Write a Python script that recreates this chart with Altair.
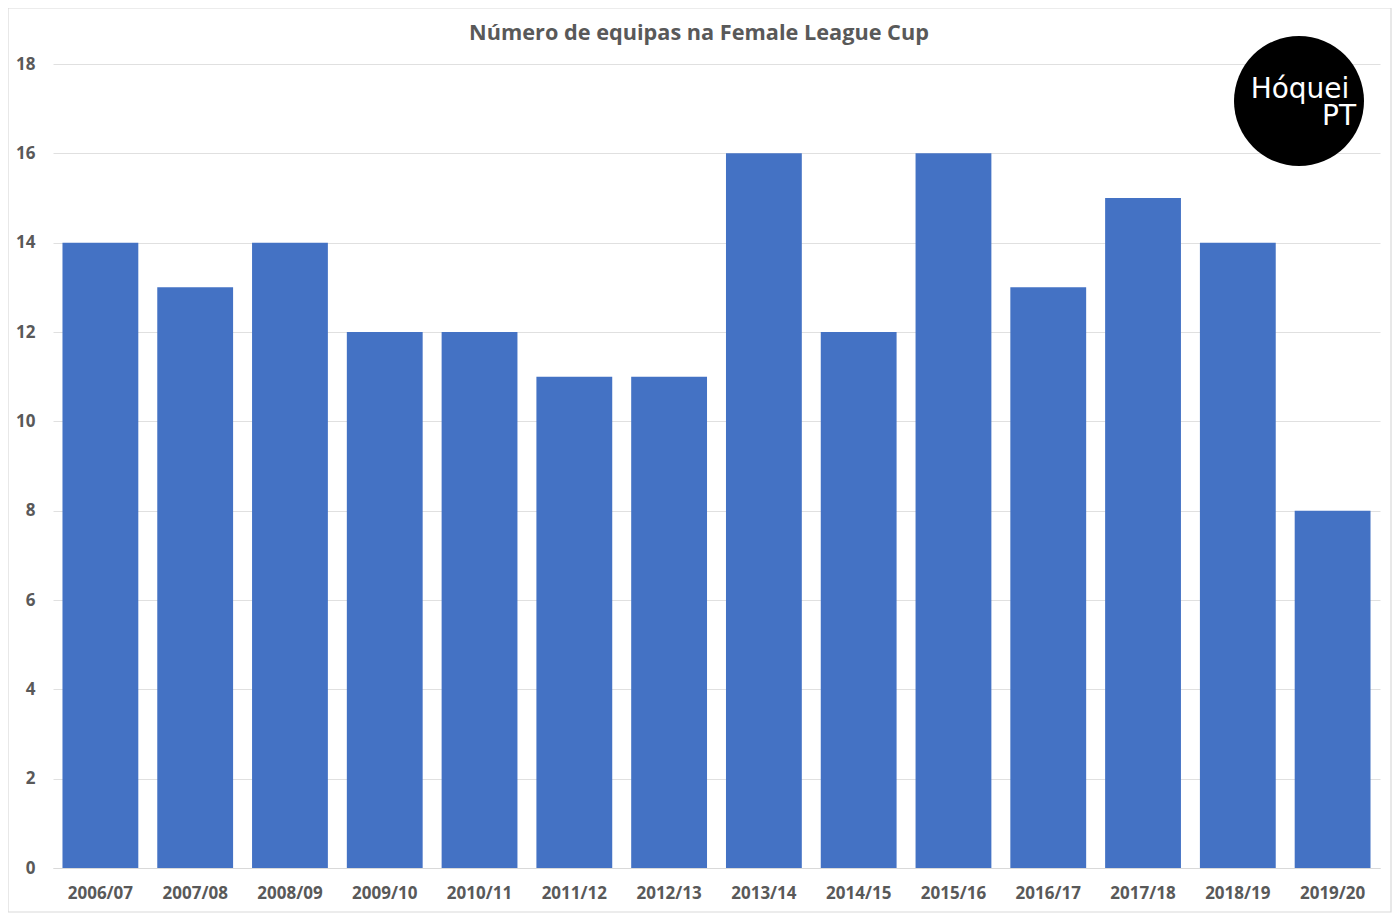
import altair as alt
import pandas as pd

seasons = ["2006/07", "2007/08", "2008/09", "2009/10", "2010/11", "2011/12", "2012/13",
           "2013/14", "2014/15", "2015/16", "2016/17", "2017/18", "2018/19", "2019/20"]
teams = [14, 13, 14, 12, 12, 11, 11, 16, 12, 16, 13, 15, 14, 8]
title_text = ["Número de equipas na Female League Cup"]
logo_line1 = ["Hóquei"]
logo_line2 = ["PT"]

df = pd.DataFrame({"season": seasons, "teams": teams})
tdf = pd.DataFrame({"t": title_text, "l1": logo_line1, "l2": logo_line2})

W, H = 1327, 804
FONT = "Open Sans"
GREY = "#595959"

bars = alt.Chart(df).mark_bar(color="#4472C4").encode(
    x=alt.X("season:N", sort=seasons, title=None,
            scale=alt.Scale(paddingInner=0.2, paddingOuter=0.1),
            axis=alt.Axis(labelAngle=0, labelFont=FONT, labelFontSize=17, labelFontWeight="bold",
                          labelColor=GREY, ticks=False, domainColor="#d9d9d9", labelPadding=17,
                          grid=False)),
    y=alt.Y("teams:Q", title=None,
            scale=alt.Scale(domain=[0, 18], nice=False),
            axis=alt.Axis(values=list(range(0, 19, 2)), labelFont=FONT, labelFontSize=17,
                          labelFontWeight="bold", labelColor=GREY, ticks=False, domain=False,
                          gridColor="#e0e0e0", labelPadding=18)),
)

frame = alt.Chart(tdf).mark_rect(fill=None, stroke="#d9d9d9", strokeWidth=1.2).encode(
    x=alt.value(-45), x2=alt.value(W + 11), y=alt.value(-56), y2=alt.value(H + 44)
)

title = alt.Chart(tdf).mark_text(font=FONT, fontSize=21.7, fontWeight="bold", color=GREY,
                                 align="center", baseline="middle").encode(
    x=alt.value(646), y=alt.value(-31), text="t:N")

circle = alt.Chart(tdf).mark_point(shape="circle", filled=True, color="black", opacity=1,
                                   size=16900).encode(x=alt.value(1246), y=alt.value(37))
t1 = alt.Chart(tdf).mark_text(color="white", font="DejaVu Sans", fontSize=28,
                              align="center", baseline="middle").encode(
    x=alt.value(1247), y=alt.value(26), text="l1:N")
t2 = alt.Chart(tdf).mark_text(color="white", font="DejaVu Sans", fontSize=28,
                              align="right", baseline="middle").encode(
    x=alt.value(1303), y=alt.value(53), text="l2:N")

chart = alt.layer(frame, bars, title, circle, t1, t2).properties(
    width=W, height=H,
    background="white",
    autosize=alt.AutoSizeParams(type="none"),
    padding={"left": 45, "top": 56, "right": 12, "bottom": 45},
).configure_view(stroke=None)

chart.save("out.html", embed_options={"renderer": "svg", "actions": False})
